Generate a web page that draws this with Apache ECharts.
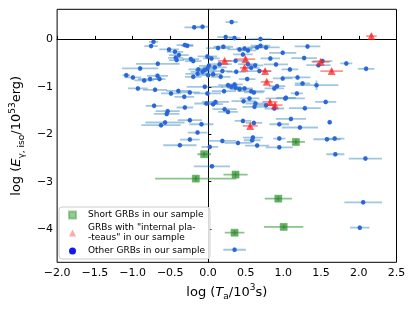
<!DOCTYPE html>
<html><head><meta charset="utf-8">
<script src="https://cdn.jsdelivr.net/npm/echarts@6/dist/echarts.min.js"></script>
<style>html,body{margin:0;padding:0;background:#fff}#c{width:415px;height:311px}</style>
</head><body><div id="c"></div>
<script>
// tick values
const xTicks = [-2.0, -1.5, -1.0, -0.5, 0.0, 0.5, 1.0, 1.5, 2.0, 2.5];
const yTicks = [-4, -3, -2, -1, 0];
const legendNames = ['Short GRBs in our sample', 'GRBs with "internal pla-\n-teaus" in our sample', 'Other GRBs in our sample'];

// rows: [log Ta, log Eiso, xErr, yErr]
const shortGRBs = [
  [1.166,-2.163,0.12,0.05],[-0.050,-2.422,0.09,0.05],[0.366,-2.851,0.16,0.05],[-0.161,-2.936,0.54,0.05],
  [0.933,-3.358,0.18,0.05],[1.004,-3.953,0.26,0.05],[0.353,-4.076,0.13,0.05]
];
const plateauGRBs = [
  [0.221,-0.452,0.09,0.05],[0.498,-0.416,0.13,0.05],[0.485,-0.600,0.06,0.05],[0.758,-0.669,0.08,0.05],
  [0.780,-0.895,0.08,0.05],[0.823,-1.318,0.10,0.05],[0.889,-1.388,0.10,0.05],[0.560,-1.825,0.10,0.05],
  [1.495,-0.473,0.12,0.05],[1.640,-0.669,0.15,0.05],[2.167,0.070,0.07,0.05]
];
const otherGRBs = [
  [-0.722,-0.051,0.06,0.05],[-0.754,-0.141,0.09,0.05],[-0.516,-0.211,0.13,0.05],[-0.437,-0.262,0.11,0.05],
  [-0.385,-0.332,0.13,0.05],[-0.428,-0.389,0.10,0.05],[-0.415,-0.437,0.10,0.05],[-0.665,-0.515,0.29,0.05],
  [-0.899,-0.612,0.24,0.05],[-1.083,-0.754,0.05,0.05],[-0.995,-0.803,0.11,0.05],[-0.846,-0.866,0.13,0.05],
  [-0.767,-0.838,0.16,0.05],[-0.669,-0.769,0.14,0.05],[-0.643,-0.838,0.08,0.05],[-0.929,-1.035,0.13,0.05],
  [-0.701,-1.064,0.16,0.05],[-0.490,-1.140,0.13,0.05],[-0.393,-1.086,0.16,0.05],[-0.714,-1.402,0.11,0.05],
  [-0.534,-1.514,0.16,0.05],[-0.547,-1.571,0.17,0.05],[-0.569,-1.753,0.26,0.05],[-0.622,-1.810,0.26,0.05],
  [-0.372,-2.232,0.22,0.05],[0.314,0.365,0.08,0.05],[-0.182,0.253,0.13,0.05],[-0.072,0.266,0.08,0.05],
  [0.235,0.049,0.11,0.05],[0.353,0.027,0.08,0.05],[0.696,0.006,0.16,0.05],[-0.306,-0.120,0.11,0.05],
  [-0.274,-0.135,0.08,0.05],[0.134,-0.184,0.16,0.05],[0.204,-0.156,0.13,0.05],[0.419,-0.211,0.16,0.05],
  [0.485,-0.190,0.11,0.05],[0.530,-0.232,0.11,0.05],[0.652,-0.169,0.13,0.05],[0.696,-0.135,0.13,0.05],
  [0.771,-0.169,0.18,0.05],[0.991,-0.283,0.18,0.05],[-0.007,-0.359,0.13,0.05],[-0.227,-0.416,0.11,0.05],
  [-0.195,-0.458,0.11,0.05],[0.046,-0.401,0.11,0.05],[0.464,-0.317,0.13,0.05],[0.366,-0.452,0.16,0.05],
  [0.827,-0.401,0.13,0.05],[0.155,-0.522,0.16,0.05],[0.530,-0.522,0.13,0.05],[0.573,-0.600,0.11,0.05],
  [0.626,-0.549,0.11,0.05],[0.902,-0.528,0.16,0.05],[0.682,-0.669,0.16,0.05],[1.087,-0.634,0.11,0.05],
  [0.090,-0.591,0.16,0.05],[0.011,-0.558,0.13,0.05],[-0.007,-0.612,0.13,0.05],[-0.042,-0.648,0.13,0.05],
  [-0.072,-0.684,0.16,0.05],[-0.129,-0.634,0.13,0.05],[-0.138,-0.726,0.16,0.05],[0.003,-0.754,0.13,0.05],
  [0.069,-0.733,0.11,0.05],[0.191,-0.669,0.13,0.05],[0.375,-0.684,0.13,0.05],[-0.195,-0.790,0.11,0.05],
  [0.169,-0.790,0.13,0.05],[0.520,-0.838,0.11,0.05],[0.991,-0.824,0.13,0.05],[-0.042,-1.001,0.24,0.05],
  [0.266,-0.965,0.13,0.05],[0.310,-1.001,0.13,0.05],[0.353,-0.950,0.11,0.05],[0.366,-1.022,0.11,0.05],
  [0.573,-1.092,0.18,0.05],[0.609,-1.119,0.13,0.05],[0.213,-1.092,0.16,0.05],[0.880,-1.035,0.13,0.05],
  [0.916,-0.986,0.11,0.05],[-0.240,-1.119,0.13,0.05],[1.320,-0.148,0.17,0.05],[1.275,-0.395,0.17,0.05],
  [1.518,-0.458,0.13,0.05],[1.465,-0.543,0.16,0.05],[1.834,-0.507,0.08,0.05],[2.097,-0.621,0.11,0.05],
  [1.188,-0.803,0.17,0.05],[1.254,-0.929,0.10,0.05],[1.439,-0.965,0.29,0.10],[1.179,-1.140,0.08,0.05],
  [1.025,-1.246,0.26,0.05],[1.561,-1.318,0.14,0.05],[1.285,-1.451,0.21,0.05],[1.100,-1.677,0.20,0.05],
  [1.614,-1.747,0.00,0.05],[1.219,-1.858,0.24,0.05],[1.578,-2.106,0.18,0.05],[1.680,-2.091,0.13,0.05],
  [1.689,-2.422,0.12,0.05],[2.088,-2.513,0.22,0.05],[0.053,-2.676,0.24,0.05],[1.034,-1.233,0.13,0.05],
  [0.419,-1.050,0.13,0.05],[0.485,-1.035,0.11,0.05],[-0.007,-1.140,0.18,0.05],[-0.314,-1.212,0.13,0.05],
  [0.099,-1.318,0.18,0.05],[-0.020,-1.352,0.16,0.05],[0.069,-1.366,0.13,0.05],[0.472,-1.303,0.16,0.05],
  [0.551,-1.246,0.13,0.05],[0.630,-1.352,0.13,0.05],[0.617,-1.423,0.16,0.05],[0.771,-1.388,0.13,0.05],
  [0.880,-1.457,0.13,0.05],[-0.306,-1.436,0.11,0.05],[0.221,-1.472,0.16,0.05],[0.266,-1.529,0.13,0.05],
  [-0.240,-1.704,0.16,0.05],[-0.086,-1.789,0.16,0.05],[0.464,-1.719,0.11,0.05],[0.609,-1.761,0.11,0.05],
  [0.946,-1.789,0.13,0.05],[-0.138,-1.964,0.13,0.05],[0.596,-2.070,0.13,0.05],[0.586,-2.127,0.11,0.05],
  [0.946,-2.091,0.08,0.05],[-0.240,-2.112,0.13,0.05],[0.024,-2.268,0.11,0.05],[0.191,-2.142,0.18,0.05],
  [0.398,-2.184,0.18,0.05],[0.652,-2.239,0.16,0.05],[0.946,-2.275,0.18,0.05],[2.058,-3.436,0.25,0.05],
  [2.013,-3.970,0.13,0.05],[0.353,-4.435,0.15,0.05]
];

const FONT = 'DejaVu Sans';
function errRender(color, lw) {
  return function (params, api) {
    const x = api.value(0), y = api.value(1), xe = api.value(2), ye = api.value(3);
    const a = api.coord([x - xe, y]), b = api.coord([x + xe, y]);
    const c = api.coord([x, y - ye]), d = api.coord([x, y + ye]);
    return { type: 'group', children: [
      { type: 'line', shape: { x1: a[0], y1: a[1], x2: b[0], y2: b[1] }, style: { stroke: color, lineWidth: lw } },
      { type: 'line', shape: { x1: c[0], y1: c[1], x2: d[0], y2: d[1] }, style: { stroke: color, lineWidth: lw } }
    ]};
  };
}
function errSeries(data, color, z) {
  return { type: 'custom', data: data, renderItem: errRender(color, 1.8), encode: { x: 0, y: 1 }, z: z, silent: true, clip: true };
}
const minus = v => (v < 0 ? '\u2212' : '') + Math.abs(v);
const rich = {
  n: { fontSize: 13, fontFamily: FONT, color: '#000' },
  i: { fontSize: 13, fontFamily: FONT, fontStyle: 'italic', color: '#000' },
  s: { fontSize: 9, fontFamily: FONT, color: '#000', verticalAlign: 'bottom', lineHeight: 9 },
  p: { fontSize: 9, fontFamily: FONT, color: '#000', verticalAlign: 'top', lineHeight: 9 }
};

const chart = echarts.init(document.getElementById('c'), null, { renderer: 'canvas' });
chart.setOption({
  animation: false,
  backgroundColor: '#fff',
  grid: { left: 54.5, right: 18.5, top: 9.3, bottom: 48.7, show: true, borderColor: '#000', borderWidth: 1, backgroundColor: 'transparent' },
  xAxis: {
    type: 'value', min: -2.0, max: 2.5, interval: 0.5,
    axisLine: { show: true, lineStyle: { color: '#000', width: 1 } },
    axisTick: { show: true, inside: true, length: 3.5, lineStyle: { color: '#000' } },
    axisLabel: { color: '#000', fontFamily: FONT, fontSize: 11, margin: 5, showMinLabel: true, showMaxLabel: true,
      formatter: v => (v < 0 ? '\u2212' : '') + Math.abs(v).toFixed(1) },
    splitLine: { show: false },
    name: '{n|log (}{i|T}{s|a}{n|/10}{p|3}{n|s)}', nameLocation: 'middle', nameGap: 16,
    nameTextStyle: { rich: rich, lineHeight: 18 }
  },
  yAxis: {
    type: 'value', min: -4.70, max: 0.634,
    axisLine: { show: true, lineStyle: { color: '#000', width: 1 } },
    axisTick: { show: true, inside: true, length: 3.5, lineStyle: { color: '#000' }, customValues: yTicks },
    axisLabel: { color: '#000', fontFamily: FONT, fontSize: 11, margin: 4, customValues: yTicks, formatter: minus },
    splitLine: { show: false },
    name: '{n|log (}{i|E}{s|\u03b3, iso}{n|/10}{p|53}{n|erg)}', nameLocation: 'middle', nameGap: 20,
    nameTextStyle: { rich: rich, lineHeight: 18 }
  },
  legend: {
    orient: 'vertical', left: 59, top: 207, padding: [3, 5, 3, 9], itemGap: 3, itemWidth: 7, itemHeight: 7,
    borderColor: '#cccccc', borderWidth: 1, borderRadius: 3, backgroundColor: 'rgba(255,255,255,0.85)',
    textStyle: { fontFamily: FONT, fontSize: 9, color: '#000', lineHeight: 10, padding: [0, 0, 0, 7] },
    data: [
      { name: legendNames[0], icon: 'rect', itemStyle: { color: 'rgba(40,140,40,0.6)' } },
      { name: legendNames[1], icon: 'triangle', itemStyle: { color: 'rgba(255,60,60,0.55)' } },
      { name: legendNames[2], icon: 'circle', itemStyle: { color: '#1515ee' } }
    ]
  },
  series: [
    errSeries(otherGRBs, 'rgba(31,119,180,0.42)', 1),
    { type: 'scatter', name: legendNames[2], data: otherGRBs, symbol: 'circle', symbolSize: 4.5, z: 2,
      itemStyle: { color: '#2a66d8', opacity: 1 } },
    errSeries(plateauGRBs, 'rgba(255,40,40,0.5)', 3),
    { type: 'scatter', name: legendNames[1], data: plateauGRBs, symbol: 'triangle', symbolSize: 8, z: 4,
      itemStyle: { color: 'rgba(255,30,30,0.85)' } },
    errSeries(shortGRBs, 'rgba(40,150,40,0.55)', 5),
    { type: 'scatter', name: legendNames[0], data: shortGRBs, symbol: 'rect', symbolSize: 7, z: 6,
      itemStyle: { color: 'rgba(30,130,30,0.8)', borderColor: 'rgba(60,160,60,0.6)', borderWidth: 1 } }
  ]
});
</script></body></html>
